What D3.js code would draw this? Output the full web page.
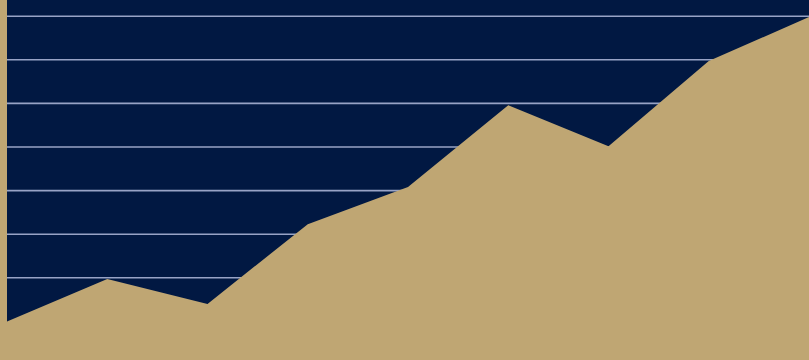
<!DOCTYPE html>
<html>
<head>
<meta charset="utf-8">
<script src="https://cdn.jsdelivr.net/npm/d3@7"></script>
<style>
  html, body { margin: 0; padding: 0; background: #bfa673; overflow: hidden; }
  svg { display: block; }
</style>
</head>
<body>
<div id="chart"></div>
<script>
// periods along the x axis
const periods = ["1", "2", "3", "4", "5", "6", "7", "8", "9"];
// series values
const values = [10, 19.7, 14, 32.3, 40.8, 59.6, 50.2, 69.7, 79.8];
// grid ticks
const gridTicks = [20, 30, 40, 50, 60, 70, 80];

const width = 809;
const height = 360;
const left = 7;

const svg = d3.select("#chart")
    .append("svg")
    .attr("width", width)
    .attr("height", height);

const x = d3.scalePoint()
    .domain(periods)
    .range([left, width]);

const y = d3.scaleLinear()
    .domain([0, 90])
    .range([365, 365 - 43.6 * 9]);

// navy plot background
svg.append("rect")
    .attr("x", left)
    .attr("y", 0)
    .attr("width", width - left)
    .attr("height", height)
    .attr("fill", "#011842");

// horizontal grid lines
svg.append("g")
    .selectAll("line")
    .data(gridTicks)
    .enter().append("line")
    .attr("x1", left)
    .attr("x2", width)
    .attr("y1", d => y(d))
    .attr("y2", d => y(d))
    .attr("stroke", "#98a3c6")
    .attr("stroke-width", 1.6);

const area = d3.area()
    .x((d, i) => x(periods[i]))
    .y0(height + 10)
    .y1(d => y(d));

svg.append("path")
    .datum(values)
    .attr("d", area)
    .attr("fill", "#bfa673");
</script>
</body>
</html>
